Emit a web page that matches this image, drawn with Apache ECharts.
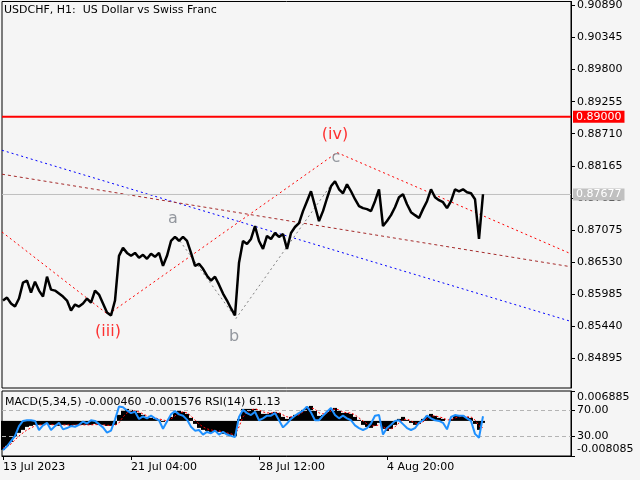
<!DOCTYPE html>
<html><head><meta charset="utf-8">
<script src="https://cdn.jsdelivr.net/npm/echarts@6/dist/echarts.min.js"></script>
<style>html,body{margin:0;padding:0;background:#f5f5f5}#c{width:640px;height:480px}</style>
</head><body><div id="c"></div>
<script>
// ---- data (one sample every 4 H1 bars) ----
const SAMPLE_STEP = 4;
const closes = [
 0.85874,0.85924,0.85823,0.85772,0.85908,0.86178,0.86212,0.86009,0.86195,0.86043,
 0.85941,0.86279,0.86060,0.86043,0.85992,0.85941,0.85874,0.85705,0.85806,0.85772,
 0.85823,0.85908,0.85840,0.86043,0.85975,0.85823,0.85671,0.85620,0.85874,0.86634,
 0.86769,0.86684,0.86634,0.86684,0.86600,0.86651,0.86583,0.86668,0.86617,0.86684,
 0.86465,0.86634,0.86887,0.86955,0.86887,0.86955,0.86887,0.86684,0.86465,0.86499,
 0.86414,0.86296,0.86212,0.86279,0.86144,0.85992,0.85874,0.85739,0.85620,0.86516,
 0.86887,0.86836,0.86921,0.87140,0.86887,0.86752,0.86972,0.86921,0.87022,0.86955,
 0.87005,0.86752,0.87022,0.87124,0.87191,0.87394,0.87563,0.87732,0.87478,0.87225,
 0.87394,0.87613,0.87816,0.87901,0.87765,0.87698,0.87850,0.87732,0.87597,0.87478,
 0.87445,0.87428,0.87394,0.87563,0.87765,0.87140,0.87225,0.87326,0.87461,0.87630,
 0.87681,0.87512,0.87377,0.87326,0.87276,0.87428,0.87563,0.87765,0.87630,0.87580,
 0.87546,0.87445,0.87563,0.87765,0.87732,0.87765,0.87715,0.87698,0.87597,0.86921,
 0.87681];
const macdMain = [
 -0.00668,-0.00576,-0.00484,-0.00368,-0.00276,-0.00207,-0.00138,-0.00115,-0.00092,-0.00092,
 -0.00092,-0.00069,-0.00092,-0.00092,-0.00115,-0.00092,-0.00092,-0.00115,-0.00092,-0.00092,
 -0.00092,-0.00092,-0.00092,-0.00069,-0.00092,-0.00092,-0.00115,-0.00115,-0.00092,0.00138,
 0.00253,0.00276,0.00253,0.00230,0.00184,0.00138,0.00092,0.00069,0.00046,0.00023,
 -0.00023,0,0.00092,0.00184,0.00230,0.00207,0.00161,0.00069,-0.00069,-0.00161,
 -0.00207,-0.00230,-0.00253,-0.00230,-0.00253,-0.00299,-0.00299,-0.00322,-0.00345,0.00046,
 0.00276,0.00276,0.00276,0.00276,0.00230,0.00161,0.00161,0.00184,0.00207,0.00184,
 0.00092,0.00046,0.00092,0.00138,0.00184,0.00253,0.00322,0.00345,0.00230,0.00115,
 0.00138,0.00207,0.00276,0.00299,0.00230,0.00184,0.00184,0.00161,0.00092,0.00023,
 -0.00092,-0.00138,-0.00161,-0.00115,-0.00046,-0.00184,-0.00230,-0.00184,-0.00092,0.00046,
 0.00092,0.00023,-0.00046,-0.00092,-0.00069,0.00046,0.00115,0.00161,0.00115,0.00069,
 0.00046,0,0.00046,0.00115,0.00115,0.00115,0.00092,0.00069,-0.00069,-0.00207,
 -0.00046];
const macdSignal = [
 -0.00622,-0.00599,-0.00530,-0.00438,-0.00345,-0.00276,-0.00207,-0.00161,-0.00115,-0.00092,
 -0.00092,-0.00085,-0.00085,-0.00092,-0.00100,-0.00095,-0.00092,-0.00100,-0.00095,-0.00092,
 -0.00092,-0.00092,-0.00092,-0.00085,-0.00085,-0.00092,-0.00100,-0.00108,-0.00100,-0.00046,
 0.00092,0.00184,0.00230,0.00230,0.00207,0.00161,0.00115,0.00092,0.00069,0.00046,
 0.00023,0,0.00046,0.00115,0.00184,0.00207,0.00184,0.00115,0.00023,-0.00069,
 -0.00138,-0.00184,-0.00207,-0.00230,-0.00230,-0.00253,-0.00276,-0.00299,-0.00322,-0.00138,
 0.00092,0.00207,0.00253,0.00276,0.00253,0.00207,0.00184,0.00184,0.00184,0.00184,
 0.00138,0.00092,0.00092,0.00115,0.00138,0.00207,0.00253,0.00299,0.00276,0.00184,
 0.00161,0.00184,0.00230,0.00276,0.00253,0.00207,0.00184,0.00184,0.00138,0.00069,
 0,-0.00069,-0.00115,-0.00115,-0.00092,-0.00138,-0.00184,-0.00184,-0.00138,-0.00046,
 0.00023,0.00046,0,-0.00046,-0.00069,-0.00023,0.00046,0.00115,0.00115,0.00092,
 0.00069,0.00023,0.00023,0.00069,0.00092,0.00115,0.00092,0.00092,0.00023,-0.00115,
 -0.001576];
const rsi = [
 9,15,23,31,46,54,55,55,54,40,
 47,51,40,46,51,41,43,46,45,48,
 53,50,55,54,49,44,36,39,56,76,
 75,70,66,68,57,61,58,62,58,55,
 42,53,64,69,64,62,56,45,39,40,
 33,37,35,39,33,37,33,31,29,60,
 71,66,63,68,55,58,62,62,66,55,
 44,50,57,62,66,70,76,67,55,55,
 62,68,74,63,58,62,58,55,47,43,
 40,43,50,62,63,33,43,48,54,55,
 49,43,40,43,51,55,62,58,55,54,
 51,41,60,63,62,62,58,54,34,28,
 61.13];
const priceTicks = [0.84895,0.85440,0.85985,0.86530,0.87075,0.87620,0.88165,0.88710,0.89255,0.89800,0.90345,0.90890];
const macdTicks = [-0.008085, 0.006885];
const rsiLevels = [30, 70];
const dateTickBars = [0, 128, 256, 384];
const dateTickLabels = ['13 Jul 2023', '21 Jul 04:00', '28 Jul 12:00', '4 Aug 20:00'];
const blueChannel = [[-1, 0.88429], [568, 0.85519]];
const brownChannel = [[-1, 0.88022], [568, 0.86448]];
const redWave = [[-1, 0.87039], [105, 0.85637], [334, 0.88390], [568, 0.86668]];
const greyWave = [[174, 0.86955], [233, 0.85570], [329, 0.87862]];
const waveLabels = [
  {text: '(iii)', bar: 105, price: 0.85350, degree: 'major'},
  {text: '(iv)', bar: 332, price: 0.88694, degree: 'major'},
  {text: 'a', bar: 170, price: 0.87259, degree: 'minor'},
  {text: 'b', bar: 231, price: 0.85249, degree: 'minor'},
  {text: 'c', bar: 333, price: 0.88306, degree: 'minor'}
];
const resistanceLevel = 0.89000;
const lastPrice = 0.87677;
const titleText = 'USDCHF, H1:  US Dollar vs Swiss Franc';
const subText = 'MACD(5,34,5) -0.000460 -0.001576 RSI(14) 61.13';

// ---- chart ----
const FONT = 'DejaVu Sans';
const pair = arr => arr.map((v, i) => [i * SAMPLE_STEP, v]);
const chart = echarts.init(document.getElementById('c'), null, {renderer: 'canvas'});
const xBase = {type: 'value', min: -1, max: 568, splitLine: {show: false}};
function levelSeries(name, value, color, width) {
  return {type: 'line', name: name, xAxisIndex: 0, yAxisIndex: 0, data: [[-1, value], [568, value]],
    symbol: 'none', silent: true, z: 3, lineStyle: {color: color, width: width},
    endLabel: {show: true, formatter: value.toFixed(5), distance: 2, backgroundColor: color, color: '#fff',
      padding: [1, 3, 0, 3], fontFamily: FONT, fontSize: 11}};
}
chart.setOption({
  animation: false,
  backgroundColor: '#f5f5f5',
  grid: [
    {left: 2, right: 69, top: -1, height: 389, show: true, borderColor: '#000', borderWidth: 1, backgroundColor: '#f5f5f5'},
    {left: 2, right: 69, top: 391, height: 65, show: true, borderColor: '#000', borderWidth: 1, backgroundColor: '#f5f5f5'}
  ],
  xAxis: [
    Object.assign({gridIndex: 0, axisLine: {show: false, onZero: false}, axisTick: {show: false}, axisLabel: {show: false}}, xBase),
    Object.assign({gridIndex: 1, axisLine: {show: true, onZero: false, lineStyle: {color: '#000'}},
      axisTick: {show: true, customValues: dateTickBars, length: 4, lineStyle: {color: '#000'}},
      axisLabel: {show: true, customValues: dateTickBars, align: 'left', margin: 6, color: '#000',
        fontFamily: FONT, fontSize: 11,
        formatter: v => dateTickLabels[dateTickBars.indexOf(v)] || ''}}, xBase)
  ],
  yAxis: [
    {type: 'value', gridIndex: 0, position: 'right', min: 0.84387, max: 0.90958,
      splitLine: {show: false},
      axisLine: {show: true, onZero: false, lineStyle: {color: '#000'}},
      axisTick: {show: true, customValues: priceTicks, length: 4, lineStyle: {color: '#000'}},
      axisLabel: {customValues: priceTicks, margin: 6, color: '#000', fontFamily: FONT, fontSize: 11,
        formatter: v => v.toFixed(5)}},
    {type: 'value', gridIndex: 1, position: 'right', min: -0.008085, max: 0.006885,
      splitLine: {show: false},
      axisLine: {show: true, onZero: false, lineStyle: {color: '#000'}},
      axisTick: {show: true, customValues: macdTicks, length: 4, lineStyle: {color: '#000'}},
      axisLabel: {customValues: macdTicks, margin: 6, color: '#000', fontFamily: FONT, fontSize: 11,
        formatter: v => v > 0 ? '{t|' + v.toFixed(6) + '}' : '{b|' + v.toFixed(6) + '}',
        rich: {t: {padding: [12, 0, 0, 0], fontFamily: FONT, fontSize: 11, color: '#000'},
               b: {padding: [0, 0, 14, 0], fontFamily: FONT, fontSize: 11, color: '#000'}}}},
    {type: 'value', gridIndex: 1, position: 'right', min: 0, max: 100,
      splitLine: {show: false}, axisLine: {show: false, onZero: false},
      axisTick: {show: true, customValues: rsiLevels, length: 4, lineStyle: {color: '#000'}},
      axisLabel: {customValues: rsiLevels, margin: 6, color: '#000', fontFamily: FONT, fontSize: 11,
        formatter: v => v.toFixed(2)}}
  ],
  series: [
    {type: 'line', name: 'blue', xAxisIndex: 0, yAxisIndex: 0, data: blueChannel, symbol: 'none', silent: true,
      lineStyle: {color: '#0000ff', width: 1, type: [2, 3]}},
    {type: 'line', name: 'brown', xAxisIndex: 0, yAxisIndex: 0, data: brownChannel, symbol: 'none', silent: true,
      lineStyle: {color: '#a52a2a', width: 1, type: [3, 3]}},
    {type: 'line', name: 'redWave', xAxisIndex: 0, yAxisIndex: 0, data: redWave, symbol: 'none', silent: true,
      lineStyle: {color: '#ff0000', width: 1, type: [2, 3]}},
    {type: 'line', name: 'greyWave', xAxisIndex: 0, yAxisIndex: 0, data: greyWave, symbol: 'none', silent: true,
      lineStyle: {color: '#808080', width: 1, type: [2, 3]}},
    levelSeries('resistance', resistanceLevel, '#ff0000', 2),
    levelSeries('last', lastPrice, '#c0c0c0', 1),
    {type: 'line', name: 'price', xAxisIndex: 0, yAxisIndex: 0, data: pair(closes), symbol: 'none', silent: true,
      lineStyle: {color: '#000', width: 2.5}, z: 5},
    {type: 'scatter', name: 'labels', xAxisIndex: 0, yAxisIndex: 0, symbolSize: 1, silent: true,
      itemStyle: {color: 'rgba(0,0,0,0)'}, z: 6,
      data: waveLabels.map(l => ({value: [l.bar, l.price], name: l.text,
        label: {color: l.degree === 'major' ? '#ff0000' : '#7b8088'}})),
      label: {show: true, position: 'inside', formatter: p => p.name, fontFamily: FONT, fontSize: 16}},
    {type: 'bar', name: 'macd', xAxisIndex: 1, yAxisIndex: 1, data: pair(macdMain), barWidth: 4, silent: true,
      itemStyle: {color: '#000'}},
    {type: 'line', name: 'signal', xAxisIndex: 1, yAxisIndex: 1, data: pair(macdSignal), symbol: 'none', silent: true,
      lineStyle: {color: '#ff0000', width: 1, type: [2, 2]}, z: 4},
    {type: 'line', name: 'rsi', xAxisIndex: 1, yAxisIndex: 2, data: pair(rsi), symbol: 'none', silent: true,
      lineStyle: {color: '#1e90ff', width: 2}, z: 5,
      markLine: {silent: true, symbol: 'none', precision: 6, label: {show: false},
        lineStyle: {color: '#b4b4b4', width: 1, type: [4, 3]},
        data: rsiLevels.map(v => ({yAxis: v}))}}
  ],
  graphic: [
    {type: 'text', left: 4, top: 5, style: {text: titleText, fill: '#000', font: '11px "DejaVu Sans"'}},
    {type: 'text', left: 5, top: 397, style: {text: subText, fill: '#000', font: '11px "DejaVu Sans"'}}
  ]
});
</script></body></html>
